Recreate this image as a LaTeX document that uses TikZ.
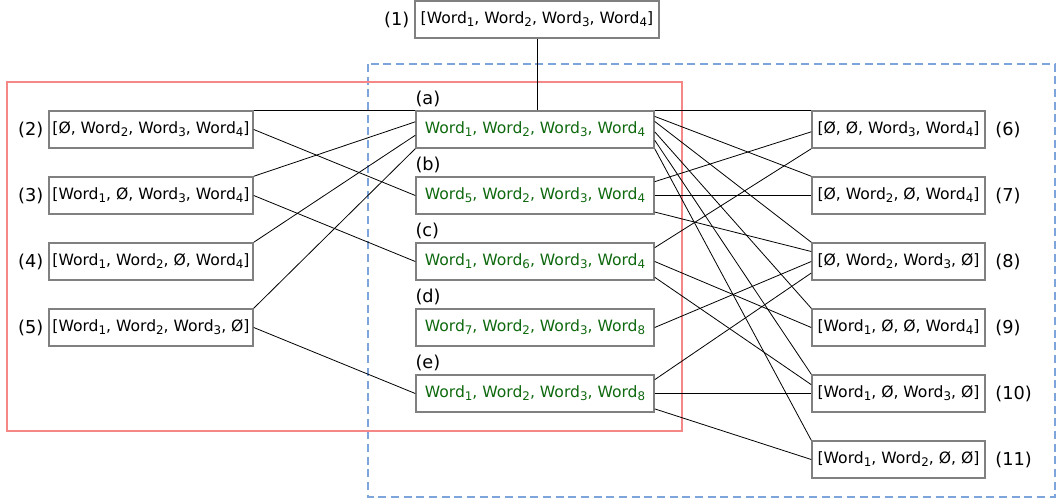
\documentclass[tikz,border=0pt]{standalone}
\usepackage{fontspec}
\setmainfont{DejaVu Sans}
\usetikzlibrary{calc}
\definecolor{boxgray}{RGB}{128,128,128}
\definecolor{wordgreen}{RGB}{15,105,15}
\definecolor{zonered}{RGB}{245,135,135}
\definecolor{zoneblue}{RGB}{125,165,220}
% lowered index digit
\newcommand\ws[1]{\raisebox{-2.3pt}{\fontsize{8.9}{9}\selectfont #1}}
\tikzset{
  seq/.style={draw=boxgray, line width=1.1pt, fill=white, inner sep=0pt,
    minimum height=27.75pt, text=black, font=\fontsize{11.7}{13}\selectfont},
  leftbox/.style={seq, minimum width=153pt},
  midbox/.style={seq, minimum width=178.5pt, text=wordgreen},
  rightbox/.style={seq, minimum width=129.75pt},
  topbox/.style={seq, minimum width=183pt},
  tag/.style={inner sep=0pt, font=\fontsize{13.3}{15}\selectfont},
  link/.style={black, line width=0.6pt},
}
\begin{document}
\begin{tikzpicture}[x=0.75pt,y=-0.75pt]
\useasboundingbox (0,0) rectangle (1058,500);

% grouping frames
\draw[zoneblue, line width=1.4pt, dash pattern=on 6pt off 3.5pt] (368,64) rectangle (1055,497);
\draw[zonered, line width=1.4pt] (7,82) rectangle (682,431);

% original sequence
\node[topbox] (n1) at (537,19.5) {[Word\ws{1}, Word\ws{2}, Word\ws{3}, Word\ws{4}]};

% left column
\node[leftbox] (n2) at (151,129.5) {[Ø, Word\ws{2}, Word\ws{3}, Word\ws{4}]};
\node[leftbox] (n3) at (151,195.5) {[Word\ws{1}, Ø, Word\ws{3}, Word\ws{4}]};
\node[leftbox] (n4) at (151,261.5) {[Word\ws{1}, Word\ws{2}, Ø, Word\ws{4}]};
\node[leftbox] (n5) at (151,327.5) {[Word\ws{1}, Word\ws{2}, Word\ws{3}, Ø]};

% middle column
\node[midbox] (a) at (535,129.5) {Word\ws{1}, Word\ws{2}, Word\ws{3}, Word\ws{4}};
\node[midbox] (b) at (535,195.5) {Word\ws{5}, Word\ws{2}, Word\ws{3}, Word\ws{4}};
\node[midbox] (c) at (535,261.5) {Word\ws{1}, Word\ws{6}, Word\ws{3}, Word\ws{4}};
\node[midbox] (d) at (535,327.5) {Word\ws{7}, Word\ws{2}, Word\ws{3}, Word\ws{8}};
\node[midbox] (e) at (535,393.5) {Word\ws{1}, Word\ws{2}, Word\ws{3}, Word\ws{8}};

% right column
\node[rightbox] (v6) at (898.5,129.5) {[Ø, Ø, Word\ws{3}, Word\ws{4}]};
\node[rightbox] (v7) at (898.5,195.5) {[Ø, Word\ws{2}, Ø, Word\ws{4}]};
\node[rightbox] (v8) at (898.5,261.5) {[Ø, Word\ws{2}, Word\ws{3}, Ø]};
\node[rightbox] (v9) at (898.5,327.5) {[Word\ws{1}, Ø, Ø, Word\ws{4}]};
\node[rightbox] (v10) at (898.5,393.5) {[Word\ws{1}, Ø, Word\ws{3}, Ø]};
\node[rightbox] (v11) at (898.5,459.5) {[Word\ws{1}, Word\ws{2}, Ø, Ø]};

% number tags
\node[tag, anchor=east, xshift=-3.5pt] (t1) at (n1.west) {(1)};
\foreach \k in {2,3,4,5}
  \node[tag, anchor=east, xshift=-3.5pt] (t\k) at (n\k.west) {(\k)};
\foreach \k in {6,7,8,9,10,11}
  \node[tag, anchor=west, xshift=7pt] (t\k) at (v\k.east) {(\k)};
\foreach \k in {a,b,c,d,e}
  \node[tag, anchor=south west, yshift=2.5pt] (l\k) at (\k.north west) {(\k)};

% links into the middle column
\draw[link] (n1.south) -- (n1.south |- a.north);
\draw[link] (n2.north east) -- (a.north west);
\draw[link] (n2.east) -- (b.west);
\draw[link] (n3.north east) -- ($(a.north west)!.3!(a.south west)$);
\draw[link] (n3.east) -- (c.west);
\draw[link] (n4.north east) -- ($(a.north west)!.65!(a.south west)$);
\draw[link] (n5.north east) -- (a.south west);
\draw[link] (n5.east) -- (e.west);

% links into the right column
\draw[link] (a.north east) -- (v6.north west);
\draw[link] ($(a.north east)!.16!(a.south east)$) -- (v7.north west);
\draw[link] ($(a.north east)!.29!(a.south east)$) -- (v8.north west);
\draw[link] ($(a.north east)!.56!(a.south east)$) -- (v9.north west);
\draw[link] ($(a.north east)!.78!(a.south east)$) -- (v10.north west);
\draw[link] (a.south east) -- (v11.north west);
\draw[link] ($(b.north east)!.14!(b.south east)$) -- ($(v6.north west)!.56!(v6.south west)$);
\draw[link] (b.east) -- (v7.west);
\draw[link] ($(b.north east)!.93!(b.south east)$) -- ($(v8.north west)!.24!(v8.south west)$);
\draw[link] ($(c.north east)!.14!(c.south east)$) -- (v6.south west);
\draw[link] (c.east) -- (v9.west);
\draw[link] ($(c.north east)!.91!(c.south east)$) -- ($(v10.north west)!.27!(v10.south west)$);
\draw[link] (d.east) -- (v8.west);
\draw[link] ($(e.north east)!.14!(e.south east)$) -- ($(v8.north west)!.8!(v8.south west)$);
\draw[link] (e.east) -- (v10.west);
\draw[link] ($(e.north east)!.9!(e.south east)$) -- (v11.west);
\end{tikzpicture}
\end{document}
